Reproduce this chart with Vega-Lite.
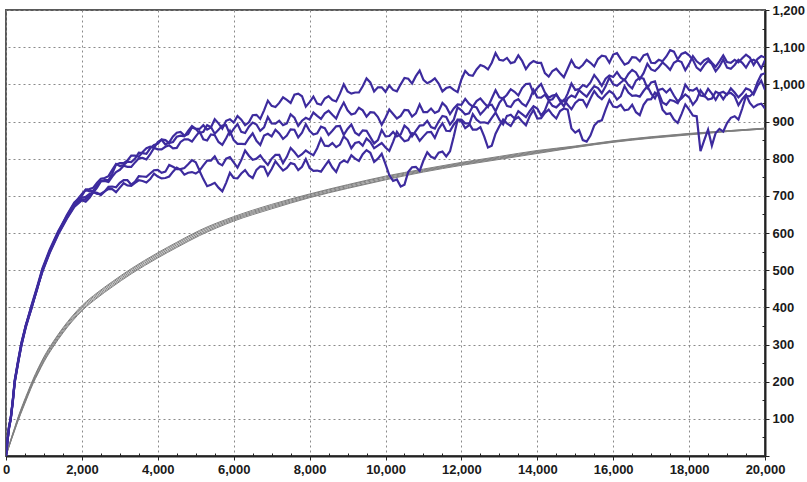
{
"$schema": "https://vega.github.io/schema/vega-lite/v6.json",
"width": 759, "height": 446,
"autosize": "none",
"padding": {"left": 6, "top": 10, "right": 42, "bottom": 26},
"background": "white",
"config": {"view": {"stroke": "#5a5a5a", "strokeWidth": 2}},
"datasets": {
"gray": [
{"s":"g1","x":0,"y":0},{"s":"g1","x":40,"y":15},{"s":"g1","x":80,"y":29},{"s":"g1","x":150,"y":52},{"s":"g1","x":230,"y":77},{"s":"g1","x":320,"y":105},{"s":"g1","x":450,"y":141},{"s":"g1","x":580,"y":174},{"s":"g1","x":710,"y":206},{"s":"g1","x":850,"y":237},{"s":"g1","x":1000,"y":267},{"s":"g1","x":1240,"y":307},{"s":"g1","x":1500,"y":345},{"s":"g1","x":1750,"y":377},{"s":"g1","x":2025,"y":407},{"s":"g1","x":2400,"y":439},{"s":"g1","x":2800,"y":469},{"s":"g1","x":3300,"y":504},{"s":"g1","x":4000,"y":547},{"s":"g1","x":4500,"y":575},{"s":"g1","x":5100,"y":607},{"s":"g1","x":6000,"y":644},{"s":"g1","x":7000,"y":677},{"s":"g1","x":8000,"y":705},{"s":"g1","x":9000,"y":730},{"s":"g1","x":10000,"y":753},{"s":"g1","x":11000,"y":772},{"s":"g1","x":12000,"y":790},{"s":"g1","x":13000,"y":806},{"s":"g1","x":14000,"y":822},{"s":"g1","x":15000,"y":834},{"s":"g1","x":16000,"y":848},{"s":"g1","x":17000,"y":859},{"s":"g1","x":18000,"y":868},{"s":"g1","x":19000,"y":875},{"s":"g1","x":20000,"y":882},
{"s":"g2","x":0,"y":0},{"s":"g2","x":40,"y":14},{"s":"g2","x":80,"y":28},{"s":"g2","x":150,"y":51},{"s":"g2","x":230,"y":75},{"s":"g2","x":320,"y":103},{"s":"g2","x":450,"y":138},{"s":"g2","x":580,"y":171},{"s":"g2","x":710,"y":203},{"s":"g2","x":850,"y":234},{"s":"g2","x":1000,"y":264},{"s":"g2","x":1240,"y":304},{"s":"g2","x":1500,"y":342},{"s":"g2","x":1750,"y":374},{"s":"g2","x":2025,"y":404},{"s":"g2","x":2400,"y":436},{"s":"g2","x":2800,"y":466},{"s":"g2","x":3300,"y":501},{"s":"g2","x":4000,"y":544},{"s":"g2","x":4500,"y":572},{"s":"g2","x":5100,"y":604},{"s":"g2","x":6000,"y":641},{"s":"g2","x":7000,"y":674},{"s":"g2","x":8000,"y":703},{"s":"g2","x":9000,"y":728},{"s":"g2","x":10000,"y":751},{"s":"g2","x":11000,"y":770},{"s":"g2","x":12000,"y":788},{"s":"g2","x":13000,"y":804},{"s":"g2","x":14000,"y":820},{"s":"g2","x":15000,"y":833},{"s":"g2","x":16000,"y":847},{"s":"g2","x":17000,"y":858},{"s":"g2","x":18000,"y":867},{"s":"g2","x":19000,"y":875},{"s":"g2","x":20000,"y":882},
{"s":"g3","x":0,"y":0},{"s":"g3","x":40,"y":14},{"s":"g3","x":80,"y":27},{"s":"g3","x":150,"y":49},{"s":"g3","x":230,"y":73},{"s":"g3","x":320,"y":100},{"s":"g3","x":450,"y":135},{"s":"g3","x":580,"y":168},{"s":"g3","x":710,"y":200},{"s":"g3","x":850,"y":230},{"s":"g3","x":1000,"y":260},{"s":"g3","x":1240,"y":300},{"s":"g3","x":1500,"y":338},{"s":"g3","x":1750,"y":370},{"s":"g3","x":2025,"y":400},{"s":"g3","x":2400,"y":432},{"s":"g3","x":2800,"y":462},{"s":"g3","x":3300,"y":497},{"s":"g3","x":4000,"y":540},{"s":"g3","x":4500,"y":568},{"s":"g3","x":5100,"y":600},{"s":"g3","x":6000,"y":638},{"s":"g3","x":7000,"y":671},{"s":"g3","x":8000,"y":700},{"s":"g3","x":9000,"y":725},{"s":"g3","x":10000,"y":748},{"s":"g3","x":11000,"y":768},{"s":"g3","x":12000,"y":786},{"s":"g3","x":13000,"y":802},{"s":"g3","x":14000,"y":818},{"s":"g3","x":15000,"y":832},{"s":"g3","x":16000,"y":846},{"s":"g3","x":17000,"y":857},{"s":"g3","x":18000,"y":866},{"s":"g3","x":19000,"y":874},{"s":"g3","x":20000,"y":881},
{"s":"g4","x":0,"y":0},{"s":"g4","x":40,"y":14},{"s":"g4","x":80,"y":26},{"s":"g4","x":150,"y":47},{"s":"g4","x":230,"y":71},{"s":"g4","x":320,"y":97},{"s":"g4","x":450,"y":132},{"s":"g4","x":580,"y":165},{"s":"g4","x":710,"y":197},{"s":"g4","x":850,"y":226},{"s":"g4","x":1000,"y":256},{"s":"g4","x":1240,"y":296},{"s":"g4","x":1500,"y":334},{"s":"g4","x":1750,"y":366},{"s":"g4","x":2025,"y":396},{"s":"g4","x":2400,"y":428},{"s":"g4","x":2800,"y":458},{"s":"g4","x":3300,"y":493},{"s":"g4","x":4000,"y":536},{"s":"g4","x":4500,"y":564},{"s":"g4","x":5100,"y":596},{"s":"g4","x":6000,"y":635},{"s":"g4","x":7000,"y":668},{"s":"g4","x":8000,"y":697},{"s":"g4","x":9000,"y":722},{"s":"g4","x":10000,"y":745},{"s":"g4","x":11000,"y":766},{"s":"g4","x":12000,"y":784},{"s":"g4","x":13000,"y":800},{"s":"g4","x":14000,"y":816},{"s":"g4","x":15000,"y":831},{"s":"g4","x":16000,"y":845},{"s":"g4","x":17000,"y":856},{"s":"g4","x":18000,"y":865},{"s":"g4","x":19000,"y":873},{"s":"g4","x":20000,"y":880},
{"s":"g5","x":0,"y":0},{"s":"g5","x":40,"y":13},{"s":"g5","x":80,"y":25},{"s":"g5","x":150,"y":46},{"s":"g5","x":230,"y":69},{"s":"g5","x":320,"y":95},{"s":"g5","x":450,"y":129},{"s":"g5","x":580,"y":162},{"s":"g5","x":710,"y":194},{"s":"g5","x":850,"y":223},{"s":"g5","x":1000,"y":253},{"s":"g5","x":1240,"y":293},{"s":"g5","x":1500,"y":331},{"s":"g5","x":1750,"y":363},{"s":"g5","x":2025,"y":393},{"s":"g5","x":2400,"y":425},{"s":"g5","x":2800,"y":455},{"s":"g5","x":3300,"y":490},{"s":"g5","x":4000,"y":533},{"s":"g5","x":4500,"y":561},{"s":"g5","x":5100,"y":593},{"s":"g5","x":6000,"y":632},{"s":"g5","x":7000,"y":665},{"s":"g5","x":8000,"y":695},{"s":"g5","x":9000,"y":720},{"s":"g5","x":10000,"y":743},{"s":"g5","x":11000,"y":764},{"s":"g5","x":12000,"y":782},{"s":"g5","x":13000,"y":798},{"s":"g5","x":14000,"y":814},{"s":"g5","x":15000,"y":830},{"s":"g5","x":16000,"y":844},{"s":"g5","x":17000,"y":855},{"s":"g5","x":18000,"y":864},{"s":"g5","x":19000,"y":873},{"s":"g5","x":20000,"y":880}
],
"purple": [
{"s":"A","x":0,"y":0},{"s":"A","x":40,"y":45},{"s":"A","x":80,"y":80},{"s":"A","x":124,"y":102},{"s":"A","x":180,"y":150},{"s":"A","x":230,"y":205},{"s":"A","x":320,"y":255},{"s":"A","x":405,"y":305},{"s":"A","x":520,"y":350},{"s":"A","x":670,"y":405},{"s":"A","x":820,"y":455},{"s":"A","x":960,"y":505},{"s":"A","x":1150,"y":555},{"s":"A","x":1375,"y":605},{"s":"A","x":1600,"y":645},{"s":"A","x":1800,"y":680},
{"s":"A","x":2000,"y":705},{"s":"A","x":2200,"y":712},{"s":"A","x":2400,"y":728},{"s":"A","x":2600,"y":742},{"s":"A","x":2800,"y":760},{"s":"A","x":3000,"y":788},{"s":"A","x":3200,"y":795},{"s":"A","x":3400,"y":808},{"s":"A","x":3600,"y":818},{"s":"A","x":3800,"y":832},{"s":"A","x":4000,"y":845},{"s":"A","x":4200,"y":838},{"s":"A","x":4400,"y":860},{"s":"A","x":4600,"y":872},{"s":"A","x":4800,"y":866},{"s":"A","x":5000,"y":880},{"s":"A","x":5200,"y":890},{"s":"A","x":5400,"y":884},{"s":"A","x":5600,"y":895},{"s":"A","x":5800,"y":902},{"s":"A","x":6000,"y":897},{"s":"A","x":6200,"y":905},{"s":"A","x":6400,"y":898},{"s":"A","x":6600,"y":918},{"s":"A","x":6800,"y":930},{"s":"A","x":7000,"y":942},{"s":"A","x":7200,"y":950},{"s":"A","x":7400,"y":958},{"s":"A","x":7600,"y":972},{"s":"A","x":7800,"y":968},{"s":"A","x":8000,"y":952},{"s":"A","x":8200,"y":948},{"s":"A","x":8400,"y":962},{"s":"A","x":8600,"y":958},{"s":"A","x":8800,"y":975},{"s":"A","x":9000,"y":981},{"s":"A","x":9200,"y":978},{"s":"A","x":9400,"y":995},{"s":"A","x":9600,"y":1005},{"s":"A","x":9800,"y":992},{"s":"A","x":10000,"y":980},{"s":"A","x":10200,"y":985},{"s":"A","x":10400,"y":1000},{"s":"A","x":10600,"y":1015},{"s":"A","x":10800,"y":1022},{"s":"A","x":11000,"y":1012},{"s":"A","x":11200,"y":1008},{"s":"A","x":11400,"y":1002},{"s":"A","x":11600,"y":990},{"s":"A","x":11800,"y":985},{"s":"A","x":12000,"y":1013},{"s":"A","x":12200,"y":1025},{"s":"A","x":12400,"y":1040},{"s":"A","x":12600,"y":1048},{"s":"A","x":12800,"y":1058},{"s":"A","x":13000,"y":1066},{"s":"A","x":13200,"y":1071},{"s":"A","x":13400,"y":1060},{"s":"A","x":13600,"y":1063},{"s":"A","x":13800,"y":1055},{"s":"A","x":14000,"y":1058},{"s":"A","x":14200,"y":1030},{"s":"A","x":14400,"y":1036},{"s":"A","x":14600,"y":1030},{"s":"A","x":14800,"y":1042},{"s":"A","x":15000,"y":1047},{"s":"A","x":15200,"y":1052},{"s":"A","x":15400,"y":1058},{"s":"A","x":15600,"y":1068},{"s":"A","x":15800,"y":1075},{"s":"A","x":16000,"y":1080},{"s":"A","x":16200,"y":1068},{"s":"A","x":16400,"y":1058},{"s":"A","x":16600,"y":1072},{"s":"A","x":16800,"y":1078},{"s":"A","x":17000,"y":1058},{"s":"A","x":17200,"y":1066},{"s":"A","x":17400,"y":1075},{"s":"A","x":17600,"y":1088},{"s":"A","x":17800,"y":1082},{"s":"A","x":18000,"y":1078},{"s":"A","x":18200,"y":1045},{"s":"A","x":18400,"y":1052},{"s":"A","x":18600,"y":1055},{"s":"A","x":18800,"y":1048},{"s":"A","x":19000,"y":1045},{"s":"A","x":19200,"y":1052},{"s":"A","x":19400,"y":1058},{"s":"A","x":19600,"y":1062},{"s":"A","x":19800,"y":1060},{"s":"A","x":20000,"y":1065},
{"s":"A","x":2100,"y":716},{"s":"A","x":2300,"y":714},{"s":"A","x":2500,"y":740},{"s":"A","x":2700,"y":742},{"s":"A","x":2900,"y":784},{"s":"A","x":3100,"y":788},{"s":"A","x":3300,"y":808},{"s":"A","x":3500,"y":805},{"s":"A","x":3700,"y":828},{"s":"A","x":3900,"y":829},{"s":"A","x":4100,"y":851},{"s":"A","x":4300,"y":844},{"s":"A","x":4500,"y":870},{"s":"A","x":4700,"y":862},{"s":"A","x":4900,"y":884},{"s":"A","x":5100,"y":880},{"s":"A","x":5300,"y":878},{"s":"A","x":5500,"y":906},{"s":"A","x":5700,"y":881},{"s":"A","x":5900,"y":906},{"s":"A","x":6100,"y":915},{"s":"A","x":6300,"y":890},{"s":"A","x":6500,"y":917},{"s":"A","x":6700,"y":907},{"s":"A","x":6900,"y":956},{"s":"A","x":7100,"y":939},{"s":"A","x":7300,"y":965},{"s":"A","x":7500,"y":950},{"s":"A","x":7700,"y":975},{"s":"A","x":7900,"y":940},{"s":"A","x":8100,"y":967},{"s":"A","x":8300,"y":945},{"s":"A","x":8500,"y":968},{"s":"A","x":8700,"y":954},{"s":"A","x":8900,"y":1000},{"s":"A","x":9100,"y":975},{"s":"A","x":9300,"y":978},{"s":"A","x":9500,"y":1016},{"s":"A","x":9700,"y":981},{"s":"A","x":9900,"y":992},{"s":"A","x":10100,"y":997},{"s":"A","x":10300,"y":981},{"s":"A","x":10500,"y":1017},{"s":"A","x":10700,"y":1002},{"s":"A","x":10900,"y":1037},{"s":"A","x":11100,"y":1003},{"s":"A","x":11300,"y":1016},{"s":"A","x":11500,"y":981},{"s":"A","x":11700,"y":993},{"s":"A","x":11900,"y":979},{"s":"A","x":12100,"y":1036},{"s":"A","x":12300,"y":1023},{"s":"A","x":12500,"y":1052},{"s":"A","x":12700,"y":1040},{"s":"A","x":12900,"y":1084},{"s":"A","x":13100,"y":1064},{"s":"A","x":13300,"y":1057},{"s":"A","x":13500,"y":1078},{"s":"A","x":13700,"y":1041},{"s":"A","x":13900,"y":1063},{"s":"A","x":14100,"y":1058},{"s":"A","x":14300,"y":1021},{"s":"A","x":14500,"y":1042},{"s":"A","x":14700,"y":1019},{"s":"A","x":14900,"y":1065},{"s":"A","x":15100,"y":1043},{"s":"A","x":15300,"y":1066},{"s":"A","x":15500,"y":1048},{"s":"A","x":15700,"y":1077},{"s":"A","x":15900,"y":1058},{"s":"A","x":16100,"y":1084},{"s":"A","x":16300,"y":1053},{"s":"A","x":16500,"y":1073},{"s":"A","x":16700,"y":1062},{"s":"A","x":16900,"y":1082},{"s":"A","x":17100,"y":1057},{"s":"A","x":17300,"y":1062},{"s":"A","x":17500,"y":1092},{"s":"A","x":17700,"y":1067},{"s":"A","x":17900,"y":1086},{"s":"A","x":18100,"y":1066},{"s":"A","x":18300,"y":1037},{"s":"A","x":18500,"y":1063},{"s":"A","x":18700,"y":1035},{"s":"A","x":18900,"y":1067},{"s":"A","x":19100,"y":1042},{"s":"A","x":19300,"y":1066},{"s":"A","x":19500,"y":1045},{"s":"A","x":19700,"y":1066},{"s":"A","x":19900,"y":1043},
{"s":"B","x":0,"y":0},{"s":"B","x":40,"y":40},{"s":"B","x":80,"y":75},{"s":"B","x":124,"y":98},{"s":"B","x":180,"y":148},{"s":"B","x":230,"y":198},{"s":"B","x":320,"y":250},{"s":"B","x":405,"y":298},{"s":"B","x":520,"y":345},{"s":"B","x":670,"y":398},{"s":"B","x":820,"y":450},{"s":"B","x":960,"y":498},{"s":"B","x":1150,"y":548},{"s":"B","x":1375,"y":598},{"s":"B","x":1600,"y":640},{"s":"B","x":1800,"y":672},
{"s":"B","x":2000,"y":690},{"s":"B","x":2200,"y":700},{"s":"B","x":2400,"y":708},{"s":"B","x":2600,"y":712},{"s":"B","x":2800,"y":718},{"s":"B","x":3000,"y":722},{"s":"B","x":3200,"y":728},{"s":"B","x":3400,"y":735},{"s":"B","x":3600,"y":740},{"s":"B","x":3800,"y":745},{"s":"B","x":4000,"y":752},{"s":"B","x":4200,"y":748},{"s":"B","x":4400,"y":765},{"s":"B","x":4600,"y":770},{"s":"B","x":4800,"y":762},{"s":"B","x":5000,"y":760},{"s":"B","x":5200,"y":745},{"s":"B","x":5400,"y":730},{"s":"B","x":5600,"y":722},{"s":"B","x":5800,"y":735},{"s":"B","x":6000,"y":748},{"s":"B","x":6200,"y":760},{"s":"B","x":6400,"y":755},{"s":"B","x":6600,"y":770},{"s":"B","x":6800,"y":778},{"s":"B","x":7000,"y":772},{"s":"B","x":7200,"y":780},{"s":"B","x":7400,"y":775},{"s":"B","x":7600,"y":785},{"s":"B","x":7800,"y":778},{"s":"B","x":8000,"y":775},{"s":"B","x":8200,"y":768},{"s":"B","x":8400,"y":780},{"s":"B","x":8600,"y":776},{"s":"B","x":8800,"y":788},{"s":"B","x":9000,"y":790},{"s":"B","x":9200,"y":800},{"s":"B","x":9400,"y":812},{"s":"B","x":9600,"y":816},{"s":"B","x":9800,"y":800},{"s":"B","x":10000,"y":785},{"s":"B","x":10200,"y":740},{"s":"B","x":10400,"y":725},{"s":"B","x":10600,"y":765},{"s":"B","x":10800,"y":778},{"s":"B","x":11000,"y":795},{"s":"B","x":11200,"y":805},{"s":"B","x":11400,"y":816},{"s":"B","x":11600,"y":806},{"s":"B","x":11800,"y":860},{"s":"B","x":12000,"y":905},{"s":"B","x":12200,"y":895},{"s":"B","x":12400,"y":878},{"s":"B","x":12600,"y":860},{"s":"B","x":12800,"y":835},{"s":"B","x":13000,"y":887},{"s":"B","x":13200,"y":895},{"s":"B","x":13400,"y":905},{"s":"B","x":13600,"y":900},{"s":"B","x":13800,"y":914},{"s":"B","x":14000,"y":908},{"s":"B","x":14200,"y":923},{"s":"B","x":14400,"y":918},{"s":"B","x":14600,"y":928},{"s":"B","x":14800,"y":932},{"s":"B","x":15000,"y":870},{"s":"B","x":15200,"y":850},{"s":"B","x":15400,"y":862},{"s":"B","x":15600,"y":900},{"s":"B","x":15800,"y":932},{"s":"B","x":16000,"y":940},{"s":"B","x":16200,"y":945},{"s":"B","x":16400,"y":932},{"s":"B","x":16600,"y":925},{"s":"B","x":16800,"y":945},{"s":"B","x":17000,"y":960},{"s":"B","x":17200,"y":968},{"s":"B","x":17400,"y":920},{"s":"B","x":17600,"y":905},{"s":"B","x":17800,"y":920},{"s":"B","x":18000,"y":932},{"s":"B","x":18200,"y":914},{"s":"B","x":18300,"y":820},{"s":"B","x":18400,"y":850},{"s":"B","x":18500,"y":878},{"s":"B","x":18600,"y":835},{"s":"B","x":18800,"y":880},{"s":"B","x":19000,"y":896},{"s":"B","x":19200,"y":914},{"s":"B","x":19400,"y":935},{"s":"B","x":19600,"y":968},{"s":"B","x":19800,"y":1005},{"s":"B","x":20000,"y":1030},
{"s":"B","x":2100,"y":691},{"s":"B","x":2300,"y":710},{"s":"B","x":2500,"y":702},{"s":"B","x":2700,"y":718},{"s":"B","x":2900,"y":710},{"s":"B","x":3100,"y":734},{"s":"B","x":3300,"y":727},{"s":"B","x":3500,"y":742},{"s":"B","x":3700,"y":736},{"s":"B","x":3900,"y":760},{"s":"B","x":4100,"y":747},{"s":"B","x":4300,"y":752},{"s":"B","x":4500,"y":776},{"s":"B","x":4700,"y":757},{"s":"B","x":4900,"y":764},{"s":"B","x":5100,"y":767},{"s":"B","x":5300,"y":726},{"s":"B","x":5500,"y":735},{"s":"B","x":5700,"y":712},{"s":"B","x":5900,"y":762},{"s":"B","x":6100,"y":747},{"s":"B","x":6300,"y":769},{"s":"B","x":6500,"y":748},{"s":"B","x":6700,"y":779},{"s":"B","x":6900,"y":755},{"s":"B","x":7100,"y":793},{"s":"B","x":7300,"y":768},{"s":"B","x":7500,"y":788},{"s":"B","x":7700,"y":769},{"s":"B","x":7900,"y":799},{"s":"B","x":8100,"y":767},{"s":"B","x":8300,"y":765},{"s":"B","x":8500,"y":794},{"s":"B","x":8700,"y":764},{"s":"B","x":8900,"y":795},{"s":"B","x":9100,"y":809},{"s":"B","x":9300,"y":794},{"s":"B","x":9500,"y":823},{"s":"B","x":9700,"y":791},{"s":"B","x":9900,"y":813},{"s":"B","x":10100,"y":756},{"s":"B","x":10300,"y":744},{"s":"B","x":10500,"y":730},{"s":"B","x":10700,"y":777},{"s":"B","x":10900,"y":767},{"s":"B","x":11100,"y":817},{"s":"B","x":11300,"y":801},{"s":"B","x":11500,"y":819},{"s":"B","x":11700,"y":820},{"s":"B","x":11900,"y":905},{"s":"B","x":12100,"y":895},{"s":"B","x":12300,"y":878},{"s":"B","x":12500,"y":885},{"s":"B","x":12700,"y":830},{"s":"B","x":12900,"y":867},{"s":"B","x":13100,"y":905},{"s":"B","x":13300,"y":888},{"s":"B","x":13500,"y":912},{"s":"B","x":13700,"y":890},{"s":"B","x":13900,"y":931},{"s":"B","x":14100,"y":909},{"s":"B","x":14300,"y":932},{"s":"B","x":14500,"y":908},{"s":"B","x":14700,"y":935},{"s":"B","x":14900,"y":881},{"s":"B","x":15100,"y":877},{"s":"B","x":15300,"y":846},{"s":"B","x":15500,"y":889},{"s":"B","x":15700,"y":903},{"s":"B","x":15900,"y":958},{"s":"B","x":16100,"y":938},{"s":"B","x":16300,"y":930},{"s":"B","x":16500,"y":945},{"s":"B","x":16700,"y":917},{"s":"B","x":16900,"y":959},{"s":"B","x":17100,"y":978},{"s":"B","x":17300,"y":932},{"s":"B","x":17500,"y":922},{"s":"B","x":17700,"y":896},{"s":"B","x":17900,"y":946},{"s":"B","x":18100,"y":916},{"s":"B","x":18700,"y":869},{"s":"B","x":18900,"y":873},{"s":"B","x":19100,"y":910},{"s":"B","x":19300,"y":905},{"s":"B","x":19500,"y":969},{"s":"B","x":19700,"y":977},{"s":"B","x":19900,"y":1026},
{"s":"C","x":0,"y":0},{"s":"C","x":40,"y":42},{"s":"C","x":80,"y":78},{"s":"C","x":124,"y":100},{"s":"C","x":180,"y":152},{"s":"C","x":230,"y":202},{"s":"C","x":320,"y":258},{"s":"C","x":405,"y":302},{"s":"C","x":520,"y":352},{"s":"C","x":670,"y":402},{"s":"C","x":820,"y":452},{"s":"C","x":960,"y":500},{"s":"C","x":1150,"y":552},{"s":"C","x":1375,"y":602},{"s":"C","x":1600,"y":648},{"s":"C","x":1800,"y":682},
{"s":"C","x":2000,"y":700},{"s":"C","x":2200,"y":718},{"s":"C","x":2400,"y":735},{"s":"C","x":2600,"y":748},{"s":"C","x":2800,"y":770},{"s":"C","x":3000,"y":780},{"s":"C","x":3200,"y":792},{"s":"C","x":3400,"y":800},{"s":"C","x":3600,"y":815},{"s":"C","x":3800,"y":828},{"s":"C","x":4000,"y":840},{"s":"C","x":4200,"y":850},{"s":"C","x":4400,"y":845},{"s":"C","x":4600,"y":862},{"s":"C","x":4800,"y":875},{"s":"C","x":5000,"y":880},{"s":"C","x":5200,"y":872},{"s":"C","x":5400,"y":885},{"s":"C","x":5600,"y":878},{"s":"C","x":5800,"y":890},{"s":"C","x":6000,"y":880},{"s":"C","x":6200,"y":872},{"s":"C","x":6400,"y":886},{"s":"C","x":6600,"y":892},{"s":"C","x":6800,"y":884},{"s":"C","x":7000,"y":895},{"s":"C","x":7200,"y":902},{"s":"C","x":7400,"y":895},{"s":"C","x":7600,"y":910},{"s":"C","x":7800,"y":902},{"s":"C","x":8000,"y":905},{"s":"C","x":8200,"y":915},{"s":"C","x":8400,"y":922},{"s":"C","x":8600,"y":918},{"s":"C","x":8800,"y":932},{"s":"C","x":9000,"y":930},{"s":"C","x":9200,"y":922},{"s":"C","x":9400,"y":930},{"s":"C","x":9600,"y":925},{"s":"C","x":9800,"y":912},{"s":"C","x":10000,"y":910},{"s":"C","x":10200,"y":920},{"s":"C","x":10400,"y":915},{"s":"C","x":10600,"y":930},{"s":"C","x":10800,"y":922},{"s":"C","x":11000,"y":925},{"s":"C","x":11200,"y":935},{"s":"C","x":11400,"y":928},{"s":"C","x":11600,"y":940},{"s":"C","x":11800,"y":935},{"s":"C","x":12000,"y":945},{"s":"C","x":12200,"y":948},{"s":"C","x":12400,"y":955},{"s":"C","x":12600,"y":950},{"s":"C","x":12800,"y":962},{"s":"C","x":13000,"y":965},{"s":"C","x":13200,"y":972},{"s":"C","x":13400,"y":980},{"s":"C","x":13600,"y":990},{"s":"C","x":13800,"y":1002},{"s":"C","x":14000,"y":990},{"s":"C","x":14200,"y":978},{"s":"C","x":14400,"y":970},{"s":"C","x":14600,"y":958},{"s":"C","x":14800,"y":975},{"s":"C","x":15000,"y":985},{"s":"C","x":15200,"y":998},{"s":"C","x":15400,"y":1005},{"s":"C","x":15600,"y":1012},{"s":"C","x":15800,"y":1015},{"s":"C","x":16000,"y":1020},{"s":"C","x":16200,"y":1018},{"s":"C","x":16400,"y":1028},{"s":"C","x":16600,"y":1032},{"s":"C","x":16800,"y":1030},{"s":"C","x":17000,"y":1040},{"s":"C","x":17200,"y":1046},{"s":"C","x":17400,"y":1050},{"s":"C","x":17600,"y":1058},{"s":"C","x":17800,"y":1060},{"s":"C","x":18000,"y":1055},{"s":"C","x":18200,"y":1062},{"s":"C","x":18400,"y":1065},{"s":"C","x":18600,"y":1058},{"s":"C","x":18800,"y":1062},{"s":"C","x":19000,"y":1060},{"s":"C","x":19200,"y":1066},{"s":"C","x":19400,"y":1070},{"s":"C","x":19600,"y":1072},{"s":"C","x":19800,"y":1068},{"s":"C","x":20000,"y":1072},
{"s":"C","x":2100,"y":717},{"s":"C","x":2300,"y":722},{"s":"C","x":2500,"y":746},{"s":"C","x":2700,"y":753},{"s":"C","x":2900,"y":786},{"s":"C","x":3100,"y":783},{"s":"C","x":3300,"y":791},{"s":"C","x":3500,"y":816},{"s":"C","x":3700,"y":813},{"s":"C","x":3900,"y":837},{"s":"C","x":4100,"y":852},{"s":"C","x":4300,"y":842},{"s":"C","x":4500,"y":859},{"s":"C","x":4700,"y":860},{"s":"C","x":4900,"y":888},{"s":"C","x":5100,"y":869},{"s":"C","x":5300,"y":890},{"s":"C","x":5500,"y":867},{"s":"C","x":5700,"y":889},{"s":"C","x":5900,"y":865},{"s":"C","x":6100,"y":893},{"s":"C","x":6300,"y":869},{"s":"C","x":6500,"y":897},{"s":"C","x":6700,"y":875},{"s":"C","x":6900,"y":912},{"s":"C","x":7100,"y":894},{"s":"C","x":7300,"y":890},{"s":"C","x":7500,"y":919},{"s":"C","x":7700,"y":888},{"s":"C","x":7900,"y":910},{"s":"C","x":8100,"y":924},{"s":"C","x":8300,"y":907},{"s":"C","x":8500,"y":929},{"s":"C","x":8700,"y":908},{"s":"C","x":8900,"y":951},{"s":"C","x":9100,"y":919},{"s":"C","x":9300,"y":937},{"s":"C","x":9500,"y":913},{"s":"C","x":9700,"y":924},{"s":"C","x":9900,"y":891},{"s":"C","x":10100,"y":932},{"s":"C","x":10300,"y":908},{"s":"C","x":10500,"y":931},{"s":"C","x":10700,"y":913},{"s":"C","x":10900,"y":946},{"s":"C","x":11100,"y":925},{"s":"C","x":11300,"y":923},{"s":"C","x":11500,"y":950},{"s":"C","x":11700,"y":920},{"s":"C","x":11900,"y":946},{"s":"C","x":12100,"y":961},{"s":"C","x":12300,"y":940},{"s":"C","x":12500,"y":962},{"s":"C","x":12700,"y":939},{"s":"C","x":12900,"y":984},{"s":"C","x":13100,"y":962},{"s":"C","x":13300,"y":987},{"s":"C","x":13500,"y":970},{"s":"C","x":13700,"y":1001},{"s":"C","x":13900,"y":976},{"s":"C","x":14100,"y":1001},{"s":"C","x":14300,"y":964},{"s":"C","x":14500,"y":972},{"s":"C","x":14700,"y":954},{"s":"C","x":14900,"y":1002},{"s":"C","x":15100,"y":987},{"s":"C","x":15300,"y":993},{"s":"C","x":15500,"y":1025},{"s":"C","x":15700,"y":996},{"s":"C","x":15900,"y":1024},{"s":"C","x":16100,"y":1033},{"s":"C","x":16300,"y":1011},{"s":"C","x":16500,"y":1039},{"s":"C","x":16700,"y":1014},{"s":"C","x":16900,"y":1055},{"s":"C","x":17100,"y":1036},{"s":"C","x":17300,"y":1059},{"s":"C","x":17500,"y":1039},{"s":"C","x":17700,"y":1064},{"s":"C","x":17900,"y":1038},{"s":"C","x":18100,"y":1076},{"s":"C","x":18300,"y":1054},{"s":"C","x":18500,"y":1070},{"s":"C","x":18700,"y":1047},{"s":"C","x":18900,"y":1078},{"s":"C","x":19100,"y":1058},{"s":"C","x":19300,"y":1059},{"s":"C","x":19500,"y":1080},{"s":"C","x":19700,"y":1052},{"s":"C","x":19900,"y":1076},
{"s":"D","x":0,"y":0},{"s":"D","x":40,"y":43},{"s":"D","x":80,"y":76},{"s":"D","x":124,"y":99},{"s":"D","x":180,"y":145},{"s":"D","x":230,"y":200},{"s":"D","x":320,"y":252},{"s":"D","x":405,"y":300},{"s":"D","x":520,"y":348},{"s":"D","x":670,"y":400},{"s":"D","x":820,"y":448},{"s":"D","x":960,"y":502},{"s":"D","x":1150,"y":550},{"s":"D","x":1375,"y":600},{"s":"D","x":1600,"y":642},{"s":"D","x":1800,"y":676},
{"s":"D","x":2000,"y":695},{"s":"D","x":2200,"y":705},{"s":"D","x":2400,"y":722},{"s":"D","x":2600,"y":740},{"s":"D","x":2800,"y":752},{"s":"D","x":3000,"y":770},{"s":"D","x":3200,"y":778},{"s":"D","x":3400,"y":790},{"s":"D","x":3600,"y":802},{"s":"D","x":3800,"y":812},{"s":"D","x":4000,"y":825},{"s":"D","x":4200,"y":832},{"s":"D","x":4400,"y":828},{"s":"D","x":4600,"y":845},{"s":"D","x":4800,"y":852},{"s":"D","x":5000,"y":860},{"s":"D","x":5200,"y":852},{"s":"D","x":5400,"y":865},{"s":"D","x":5600,"y":845},{"s":"D","x":5800,"y":855},{"s":"D","x":6000,"y":850},{"s":"D","x":6200,"y":840},{"s":"D","x":6400,"y":855},{"s":"D","x":6600,"y":848},{"s":"D","x":6800,"y":862},{"s":"D","x":7000,"y":860},{"s":"D","x":7200,"y":868},{"s":"D","x":7400,"y":862},{"s":"D","x":7600,"y":878},{"s":"D","x":7800,"y":870},{"s":"D","x":8000,"y":875},{"s":"D","x":8200,"y":868},{"s":"D","x":8400,"y":882},{"s":"D","x":8600,"y":875},{"s":"D","x":8800,"y":888},{"s":"D","x":9000,"y":880},{"s":"D","x":9200,"y":870},{"s":"D","x":9400,"y":876},{"s":"D","x":9600,"y":858},{"s":"D","x":9800,"y":850},{"s":"D","x":10000,"y":860},{"s":"D","x":10200,"y":872},{"s":"D","x":10400,"y":865},{"s":"D","x":10600,"y":880},{"s":"D","x":10800,"y":875},{"s":"D","x":11000,"y":890},{"s":"D","x":11200,"y":885},{"s":"D","x":11400,"y":900},{"s":"D","x":11600,"y":912},{"s":"D","x":11800,"y":905},{"s":"D","x":12000,"y":930},{"s":"D","x":12200,"y":922},{"s":"D","x":12400,"y":938},{"s":"D","x":12600,"y":930},{"s":"D","x":12800,"y":945},{"s":"D","x":13000,"y":950},{"s":"D","x":13200,"y":942},{"s":"D","x":13400,"y":955},{"s":"D","x":13600,"y":948},{"s":"D","x":13800,"y":960},{"s":"D","x":14000,"y":965},{"s":"D","x":14200,"y":972},{"s":"D","x":14400,"y":960},{"s":"D","x":14600,"y":955},{"s":"D","x":14800,"y":962},{"s":"D","x":15000,"y":965},{"s":"D","x":15200,"y":975},{"s":"D","x":15400,"y":982},{"s":"D","x":15600,"y":990},{"s":"D","x":15800,"y":995},{"s":"D","x":16000,"y":1000},{"s":"D","x":16200,"y":1005},{"s":"D","x":16400,"y":998},{"s":"D","x":16600,"y":1010},{"s":"D","x":16800,"y":1015},{"s":"D","x":17000,"y":1005},{"s":"D","x":17200,"y":976},{"s":"D","x":17400,"y":945},{"s":"D","x":17600,"y":955},{"s":"D","x":17800,"y":968},{"s":"D","x":18000,"y":985},{"s":"D","x":18200,"y":990},{"s":"D","x":18400,"y":968},{"s":"D","x":18600,"y":975},{"s":"D","x":18800,"y":976},{"s":"D","x":19000,"y":972},{"s":"D","x":19200,"y":978},{"s":"D","x":19400,"y":975},{"s":"D","x":19600,"y":985},{"s":"D","x":19800,"y":995},{"s":"D","x":20000,"y":985},
{"s":"D","x":2100,"y":697},{"s":"D","x":2300,"y":709},{"s":"D","x":2500,"y":739},{"s":"D","x":2700,"y":737},{"s":"D","x":2900,"y":764},{"s":"D","x":3100,"y":781},{"s":"D","x":3300,"y":778},{"s":"D","x":3500,"y":801},{"s":"D","x":3700,"y":798},{"s":"D","x":3900,"y":829},{"s":"D","x":4100,"y":825},{"s":"D","x":4300,"y":836},{"s":"D","x":4500,"y":829},{"s":"D","x":4700,"y":852},{"s":"D","x":4900,"y":846},{"s":"D","x":5100,"y":873},{"s":"D","x":5300,"y":849},{"s":"D","x":5500,"y":863},{"s":"D","x":5700,"y":837},{"s":"D","x":5900,"y":875},{"s":"D","x":6100,"y":840},{"s":"D","x":6300,"y":839},{"s":"D","x":6500,"y":868},{"s":"D","x":6700,"y":837},{"s":"D","x":6900,"y":867},{"s":"D","x":7100,"y":878},{"s":"D","x":7300,"y":853},{"s":"D","x":7500,"y":879},{"s":"D","x":7700,"y":857},{"s":"D","x":7900,"y":893},{"s":"D","x":8100,"y":865},{"s":"D","x":8300,"y":886},{"s":"D","x":8500,"y":864},{"s":"D","x":8700,"y":887},{"s":"D","x":8900,"y":864},{"s":"D","x":9100,"y":892},{"s":"D","x":9300,"y":863},{"s":"D","x":9500,"y":875},{"s":"D","x":9700,"y":841},{"s":"D","x":9900,"y":877},{"s":"D","x":10100,"y":861},{"s":"D","x":10300,"y":860},{"s":"D","x":10500,"y":889},{"s":"D","x":10700,"y":860},{"s":"D","x":10900,"y":889},{"s":"D","x":11100,"y":902},{"s":"D","x":11300,"y":881},{"s":"D","x":11500,"y":915},{"s":"D","x":11700,"y":892},{"s":"D","x":11900,"y":938},{"s":"D","x":12100,"y":919},{"s":"D","x":12300,"y":941},{"s":"D","x":12500,"y":919},{"s":"D","x":12700,"y":943},{"s":"D","x":12900,"y":928},{"s":"D","x":13100,"y":963},{"s":"D","x":13300,"y":939},{"s":"D","x":13500,"y":960},{"s":"D","x":13700,"y":941},{"s":"D","x":13900,"y":985},{"s":"D","x":14100,"y":964},{"s":"D","x":14300,"y":957},{"s":"D","x":14500,"y":974},{"s":"D","x":14700,"y":941},{"s":"D","x":14900,"y":970},{"s":"D","x":15100,"y":984},{"s":"D","x":15300,"y":967},{"s":"D","x":15500,"y":995},{"s":"D","x":15700,"y":976},{"s":"D","x":15900,"y":1018},{"s":"D","x":16100,"y":996},{"s":"D","x":16300,"y":1013},{"s":"D","x":16500,"y":989},{"s":"D","x":16700,"y":1018},{"s":"D","x":16900,"y":990},{"s":"D","x":17100,"y":1008},{"s":"D","x":17300,"y":951},{"s":"D","x":17500,"y":958},{"s":"D","x":17700,"y":949},{"s":"D","x":17900,"y":999},{"s":"D","x":18100,"y":983},{"s":"D","x":18300,"y":970},{"s":"D","x":18500,"y":988},{"s":"D","x":18700,"y":958},{"s":"D","x":18900,"y":980},{"s":"D","x":19100,"y":989},{"s":"D","x":19300,"y":965},{"s":"D","x":19500,"y":989},{"s":"D","x":19700,"y":973},{"s":"D","x":19900,"y":1010},
{"s":"E","x":0,"y":0},{"s":"E","x":40,"y":41},{"s":"E","x":80,"y":77},{"s":"E","x":124,"y":101},{"s":"E","x":180,"y":150},{"s":"E","x":230,"y":199},{"s":"E","x":320,"y":254},{"s":"E","x":405,"y":296},{"s":"E","x":520,"y":350},{"s":"E","x":670,"y":396},{"s":"E","x":820,"y":452},{"s":"E","x":960,"y":496},{"s":"E","x":1150,"y":546},{"s":"E","x":1375,"y":596},{"s":"E","x":1600,"y":638},{"s":"E","x":1800,"y":670},
{"s":"E","x":2000,"y":688},{"s":"E","x":2200,"y":695},{"s":"E","x":2400,"y":705},{"s":"E","x":2600,"y":712},{"s":"E","x":2800,"y":725},{"s":"E","x":3000,"y":735},{"s":"E","x":3200,"y":742},{"s":"E","x":3400,"y":738},{"s":"E","x":3600,"y":752},{"s":"E","x":3800,"y":760},{"s":"E","x":4000,"y":770},{"s":"E","x":4200,"y":765},{"s":"E","x":4400,"y":778},{"s":"E","x":4600,"y":772},{"s":"E","x":4800,"y":785},{"s":"E","x":5000,"y":790},{"s":"E","x":5200,"y":782},{"s":"E","x":5400,"y":795},{"s":"E","x":5600,"y":788},{"s":"E","x":5800,"y":800},{"s":"E","x":6000,"y":790},{"s":"E","x":6200,"y":796},{"s":"E","x":6400,"y":808},{"s":"E","x":6600,"y":800},{"s":"E","x":6800,"y":795},{"s":"E","x":7000,"y":800},{"s":"E","x":7200,"y":810},{"s":"E","x":7400,"y":805},{"s":"E","x":7600,"y":818},{"s":"E","x":7800,"y":812},{"s":"E","x":8000,"y":815},{"s":"E","x":8200,"y":828},{"s":"E","x":8400,"y":835},{"s":"E","x":8600,"y":842},{"s":"E","x":8800,"y":838},{"s":"E","x":9000,"y":850},{"s":"E","x":9200,"y":842},{"s":"E","x":9400,"y":835},{"s":"E","x":9600,"y":845},{"s":"E","x":9800,"y":835},{"s":"E","x":10000,"y":830},{"s":"E","x":10200,"y":845},{"s":"E","x":10400,"y":858},{"s":"E","x":10600,"y":850},{"s":"E","x":10800,"y":865},{"s":"E","x":11000,"y":860},{"s":"E","x":11200,"y":872},{"s":"E","x":11400,"y":880},{"s":"E","x":11600,"y":875},{"s":"E","x":11800,"y":892},{"s":"E","x":12000,"y":900},{"s":"E","x":12200,"y":890},{"s":"E","x":12400,"y":905},{"s":"E","x":12600,"y":898},{"s":"E","x":12800,"y":910},{"s":"E","x":13000,"y":905},{"s":"E","x":13200,"y":915},{"s":"E","x":13400,"y":908},{"s":"E","x":13600,"y":920},{"s":"E","x":13800,"y":928},{"s":"E","x":14000,"y":935},{"s":"E","x":14200,"y":930},{"s":"E","x":14400,"y":942},{"s":"E","x":14600,"y":948},{"s":"E","x":14800,"y":945},{"s":"E","x":15000,"y":950},{"s":"E","x":15200,"y":958},{"s":"E","x":15400,"y":962},{"s":"E","x":15600,"y":968},{"s":"E","x":15800,"y":972},{"s":"E","x":16000,"y":975},{"s":"E","x":16200,"y":968},{"s":"E","x":16400,"y":978},{"s":"E","x":16600,"y":970},{"s":"E","x":16800,"y":982},{"s":"E","x":17000,"y":975},{"s":"E","x":17200,"y":985},{"s":"E","x":17400,"y":978},{"s":"E","x":17600,"y":970},{"s":"E","x":17800,"y":962},{"s":"E","x":18000,"y":965},{"s":"E","x":18200,"y":958},{"s":"E","x":18400,"y":970},{"s":"E","x":18600,"y":962},{"s":"E","x":18800,"y":975},{"s":"E","x":19000,"y":975},{"s":"E","x":19200,"y":968},{"s":"E","x":19400,"y":960},{"s":"E","x":19600,"y":950},{"s":"E","x":19800,"y":945},{"s":"E","x":20000,"y":935},
{"s":"E","x":2100,"y":684},{"s":"E","x":2300,"y":710},{"s":"E","x":2500,"y":706},{"s":"E","x":2700,"y":724},{"s":"E","x":2900,"y":723},{"s":"E","x":3100,"y":742},{"s":"E","x":3300,"y":730},{"s":"E","x":3500,"y":753},{"s":"E","x":3700,"y":751},{"s":"E","x":3900,"y":769},{"s":"E","x":4100,"y":762},{"s":"E","x":4300,"y":783},{"s":"E","x":4500,"y":772},{"s":"E","x":4700,"y":775},{"s":"E","x":4900,"y":796},{"s":"E","x":5100,"y":768},{"s":"E","x":5300,"y":795},{"s":"E","x":5500,"y":806},{"s":"E","x":5700,"y":782},{"s":"E","x":5900,"y":804},{"s":"E","x":6100,"y":776},{"s":"E","x":6300,"y":822},{"s":"E","x":6500,"y":797},{"s":"E","x":6700,"y":809},{"s":"E","x":6900,"y":783},{"s":"E","x":7100,"y":810},{"s":"E","x":7300,"y":788},{"s":"E","x":7500,"y":829},{"s":"E","x":7700,"y":805},{"s":"E","x":7900,"y":822},{"s":"E","x":8100,"y":809},{"s":"E","x":8300,"y":854},{"s":"E","x":8500,"y":834},{"s":"E","x":8700,"y":831},{"s":"E","x":8900,"y":860},{"s":"E","x":9100,"y":828},{"s":"E","x":9300,"y":845},{"s":"E","x":9500,"y":854},{"s":"E","x":9700,"y":828},{"s":"E","x":9900,"y":842},{"s":"E","x":10100,"y":821},{"s":"E","x":10300,"y":872},{"s":"E","x":10500,"y":847},{"s":"E","x":10700,"y":869},{"s":"E","x":10900,"y":848},{"s":"E","x":11100,"y":871},{"s":"E","x":11300,"y":856},{"s":"E","x":11500,"y":895},{"s":"E","x":11700,"y":874},{"s":"E","x":11900,"y":904},{"s":"E","x":12100,"y":882},{"s":"E","x":12300,"y":920},{"s":"E","x":12500,"y":897},{"s":"E","x":12700,"y":895},{"s":"E","x":12900,"y":924},{"s":"E","x":13100,"y":892},{"s":"E","x":13300,"y":918},{"s":"E","x":13500,"y":928},{"s":"E","x":13700,"y":912},{"s":"E","x":13900,"y":941},{"s":"E","x":14100,"y":916},{"s":"E","x":14300,"y":956},{"s":"E","x":14500,"y":938},{"s":"E","x":14700,"y":958},{"s":"E","x":14900,"y":933},{"s":"E","x":15100,"y":959},{"s":"E","x":15300,"y":940},{"s":"E","x":15500,"y":982},{"s":"E","x":15700,"y":960},{"s":"E","x":15900,"y":982},{"s":"E","x":16100,"y":959},{"s":"E","x":16300,"y":995},{"s":"E","x":16500,"y":969},{"s":"E","x":16700,"y":967},{"s":"E","x":16900,"y":995},{"s":"E","x":17100,"y":962},{"s":"E","x":17300,"y":988},{"s":"E","x":17500,"y":988},{"s":"E","x":17700,"y":954},{"s":"E","x":17900,"y":973},{"s":"E","x":18100,"y":945},{"s":"E","x":18300,"y":984},{"s":"E","x":18500,"y":959},{"s":"E","x":18700,"y":980},{"s":"E","x":18900,"y":960},{"s":"E","x":19100,"y":977},{"s":"E","x":19300,"y":944},{"s":"E","x":19500,"y":972},{"s":"E","x":19700,"y":938},{"s":"E","x":19900,"y":948}
]
},
"encoding": {
"x": {"field": "x", "type": "quantitative", "title": null,
 "scale": {"domain": [0, 20000], "nice": false, "zero": false},
 "axis": {"values": [0,500,1000,1500,2000,2500,3000,3500,4000,4500,5000,5500,6000,6500,7000,7500,8000,8500,9000,9500,10000,10500,11000,11500,12000,12500,13000,13500,14000,14500,15000,15500,16000,16500,17000,17500,18000,18500,19000,19500,20000],
  "labelExpr": "datum.value % 2000 === 0 ? format(datum.value, ',') : ''",
  "grid": true, "gridColor": "#8a8a8a", "gridDash": [2, 3], "gridWidth": 1,
  "gridOpacity": {"condition": {"test": "datum.value % 2000 === 0", "value": 1}, "value": 0},
  "tickSize": {"condition": {"test": "datum.value % 2000 === 0", "value": 4}, "value": -3},
  "tickColor": "#222", "tickWidth": 1,
  "domainColor": "#222", "domainWidth": 2,
  "labelFont": "Liberation Sans", "labelFontWeight": "bold", "labelFontSize": 13, "labelColor": "#1a1a1a",
  "labelPadding": 3, "labelFlush": false, "labelOverlap": false, "labelBound": false}},
"y": {"field": "y", "type": "quantitative", "title": null,
 "scale": {"domain": [0, 1200], "nice": false},
 "axis": {"orient": "right", "values": [0,50,100,150,200,250,300,350,400,450,500,550,600,650,700,750,800,850,900,950,1000,1050,1100,1150,1200],
  "labelExpr": "datum.value % 100 === 0 && datum.value > 0 ? format(datum.value, ',') : ''",
  "grid": true, "gridColor": "#8a8a8a", "gridDash": [2, 3], "gridWidth": 1,
  "gridOpacity": {"condition": {"test": "datum.value % 100 === 0", "value": 1}, "value": 0},
  "tickSize": {"condition": {"test": "datum.value % 100 === 0", "value": 4}, "value": -3},
  "tickColor": "#222", "tickWidth": 1,
  "domainColor": "#222", "domainWidth": 2,
  "labelFont": "Liberation Sans", "labelFontWeight": "bold", "labelFontSize": 13, "labelColor": "#1a1a1a",
  "labelPadding": 3, "labelFlush": false, "labelOverlap": false, "labelBound": false}}
},
"layer": [
 {"data": {"name": "gray"}, "mark": {"type": "line", "color": "#7f7f7f", "strokeWidth": 1, "interpolate": "monotone", "clip": true},
  "encoding": {"detail": {"field": "s", "type": "nominal"}}},
 {"data": {"name": "purple"}, "mark": {"type": "line", "color": "#3d2b9e", "strokeWidth": 2.2, "clip": true},
  "encoding": {"detail": {"field": "s", "type": "nominal"}}}
]
}
